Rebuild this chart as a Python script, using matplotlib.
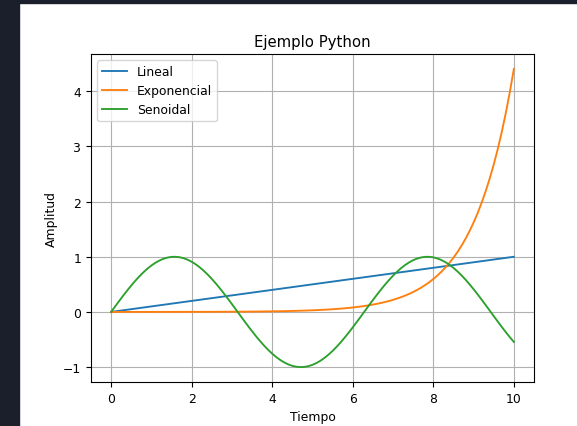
import matplotlib.pyplot as plt
from matplotlib.patches import Rectangle

tiempo = [0.0, 0.1, 0.2, 0.3, 0.4, 0.5, 0.6, 0.7, 0.8, 0.9,
          1.0, 1.1, 1.2, 1.3, 1.4, 1.5, 1.6, 1.7, 1.8, 1.9,
          2.0, 2.1, 2.2, 2.3, 2.4, 2.5, 2.6, 2.7, 2.8, 2.9,
          3.0, 3.1, 3.2, 3.3, 3.4, 3.5, 3.6, 3.7, 3.8, 3.9,
          4.0, 4.1, 4.2, 4.3, 4.4, 4.5, 4.6, 4.7, 4.8, 4.9,
          5.0, 5.1, 5.2, 5.3, 5.4, 5.5, 5.6, 5.7, 5.8, 5.9,
          6.0, 6.1, 6.2, 6.3, 6.4, 6.5, 6.6, 6.7, 6.8, 6.9,
          7.0, 7.1, 7.2, 7.3, 7.4, 7.5, 7.6, 7.7, 7.8, 7.9,
          8.0, 8.1, 8.2, 8.3, 8.4, 8.5, 8.6, 8.7, 8.8, 8.9,
          9.0, 9.1, 9.2, 9.3, 9.4, 9.5, 9.6, 9.7, 9.8, 9.9,
          10.0]

# straight line, only the end points are needed
lineal_t = [0.0, 10.0]
lineal = [0.0, 1.0]

exponencial = [0.0002, 0.0002, 0.0002, 0.0003, 0.0003, 0.0003, 0.0004, 0.0004, 0.0004, 0.0005,
               0.0005, 0.0006, 0.0007, 0.0007, 0.0008, 0.0009, 0.001, 0.0011, 0.0012, 0.0013,
               0.0015, 0.0016, 0.0018, 0.002, 0.0022, 0.0024, 0.0027, 0.003, 0.0033, 0.0036,
               0.004, 0.0044, 0.0049, 0.0054, 0.006, 0.0066, 0.0073, 0.0081, 0.0089, 0.0099,
               0.0109, 0.0121, 0.0133, 0.0147, 0.0163, 0.018, 0.0199, 0.022, 0.0243, 0.0269,
               0.0297, 0.0328, 0.0363, 0.0401, 0.0443, 0.0489, 0.0541, 0.0598, 0.0661, 0.073,
               0.0807, 0.0892, 0.0985, 0.1089, 0.1204, 0.133, 0.147, 0.1625, 0.1796, 0.1985,
               0.2193, 0.2424, 0.2679, 0.2961, 0.3272, 0.3616, 0.3996, 0.4417, 0.4881, 0.5395,
               0.5962, 0.6589, 0.7282, 0.8048, 0.8894, 0.983, 1.0863, 1.2006, 1.3268, 1.4664,
               1.6206, 1.7911, 1.9794, 2.1876, 2.4177, 2.6719, 2.953, 3.2635, 3.6067, 3.9861,
               4.4053]

senoidal = [0.0, 0.0998, 0.1987, 0.2955, 0.3894, 0.4794, 0.5646, 0.6442, 0.7174, 0.7833,
            0.8415, 0.8912, 0.932, 0.9636, 0.9854, 0.9975, 0.9996, 0.9917, 0.9738, 0.9463,
            0.9093, 0.8632, 0.8085, 0.7457, 0.6755, 0.5985, 0.5155, 0.4274, 0.335, 0.2392,
            0.1411, 0.0416, -0.0584, -0.1577, -0.2555, -0.3508, -0.4425, -0.5298, -0.6119, -0.6878,
            -0.7568, -0.8183, -0.8716, -0.9162, -0.9516, -0.9775, -0.9937, -0.9999, -0.9962, -0.9825,
            -0.9589, -0.9258, -0.8835, -0.8323, -0.7728, -0.7055, -0.6313, -0.5507, -0.4646, -0.3739,
            -0.2794, -0.1822, -0.0831, 0.0168, 0.1165, 0.2151, 0.3115, 0.4048, 0.4941, 0.5784,
            0.657, 0.729, 0.7937, 0.8504, 0.8987, 0.938, 0.9679, 0.9882, 0.9985, 0.9989,
            0.9894, 0.9699, 0.9407, 0.9022, 0.8546, 0.7985, 0.7344, 0.663, 0.5849, 0.501,
            0.4121, 0.3191, 0.2229, 0.1245, 0.0248, -0.0752, -0.1743, -0.2718, -0.3665, -0.4575,
            -0.544]

W, H = 577, 427
plt.rcParams['font.size'] = 8.9

fig = plt.figure(figsize=(W / 100, H / 100), dpi=100, facecolor='white')

# dark frame strips on the left and top
fig.patches.append(Rectangle((0, 0), 19 / W, 1, transform=fig.transFigure,
                             color='#1b1f2b', zorder=0))
fig.patches.append(Rectangle((0, 1 - 4 / H), 1, 4 / H, transform=fig.transFigure,
                             color='#1b1f2b', zorder=0))

ax = fig.add_axes([91 / W, (H - 383) / H, 443 / W, 328 / H])
lw = 1.35
ax.plot(lineal_t, lineal, label='Lineal', lw=lw)
ax.plot(tiempo, exponencial, label='Exponencial', lw=lw)
ax.plot(tiempo, senoidal, label='Senoidal', lw=lw)

ax.set_title('Ejemplo Python')
ax.set_xlabel('Tiempo')
ax.set_ylabel('Amplitud')
ax.grid(True)
ax.legend(loc='upper left')

fig.savefig('out.png', dpi=100)
